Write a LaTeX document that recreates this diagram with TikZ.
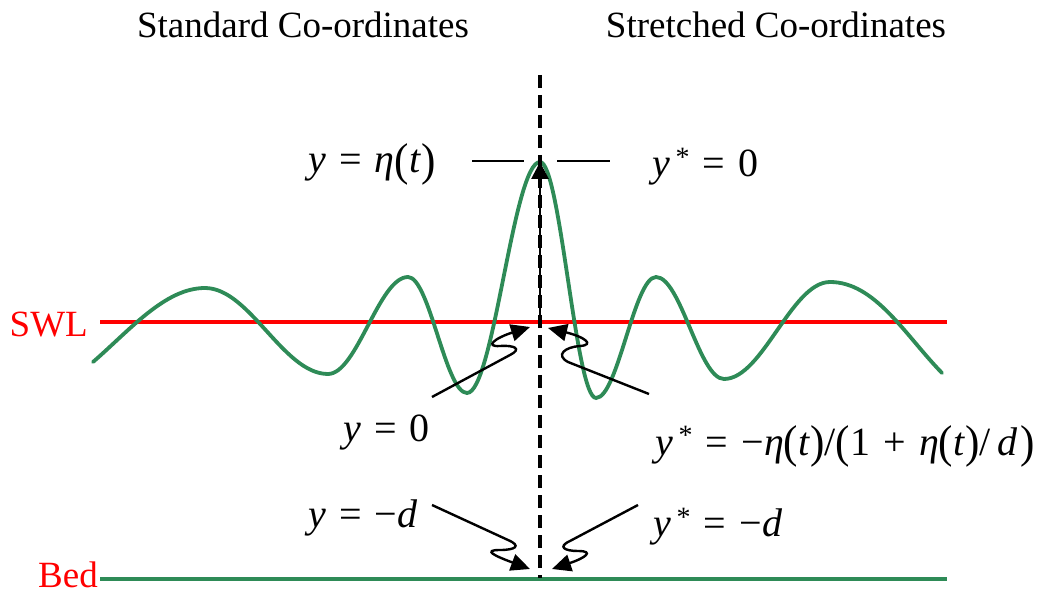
\documentclass[tikz,border=0pt]{standalone}
\usepackage{fontspec}
\setmainfont{Liberation Serif}
\usetikzlibrary{arrows.meta}
\definecolor{wave}{RGB}{46,139,87}
\newcommand{\eqs}{\hspace{0.33em}}
\newcommand{\lpar}{\raisebox{-0.06em}{\scalebox{1.08}[1.15]{(}}}
\newcommand{\rpar}{\raisebox{-0.06em}{\scalebox{1.08}[1.15]{)}}}
\newcommand{\ystar}{\textit{y}\hspace{0.14em}\raisebox{0.25em}{\fontsize{28}{28}\selectfont *}}
\begin{document}
\begin{tikzpicture}[x=1pt,y=-1pt,
  lbl/.style={inner sep=0pt, font=\fontsize{37}{44}\selectfont},
  eq/.style={inner sep=0pt, anchor=base west, font=\fontsize{40}{48}\selectfont},
  waveline/.style={draw=wave, line width=3.8pt},
  swlline/.style={draw=red, line width=3.2pt},
  sq/.style={draw=black, line width=2.4pt, -{Triangle[length=19pt,width=17pt]}},
  thin/.style={draw=black, line width=2.5pt},
  axisdash/.style={draw=black, line width=3.2pt, dash pattern=on 13pt off 7pt}]
\useasboundingbox (0,0) rectangle (1047,593);

% titles
\node[lbl, anchor=base] (t1) at (303,38) {Standard Co-ordinates};
\node[lbl, anchor=base] (t2) at (776,38) {Stretched Co-ordinates};

% SWL and bed
\node[lbl, anchor=base east, text=red] (swl) at (88,337) {SWL};
\node[lbl, anchor=base east, text=red] (bed) at (98,587) {Bed};
\coordinate (swlL) at (100,322);
\coordinate (swlR) at (947,322);
\coordinate (bedL) at (100,579);
\coordinate (bedR) at (947,579);
\draw[swlline] (swlL) -- (swlR);
\draw[waveline] (bedL) -- (bedR);

% wave
\draw[waveline, line cap=round] (93,362) .. controls (130,330) and (165,288) .. (205,288)
  .. controls (249.8,288) and (283.2,374) .. (328,374)
  .. controls (357,374) and (379,277) .. (408,277)
  .. controls (429.5,277) and (445.5,393) .. (467,393)
  .. controls (493.6,393) and (513.4,162) .. (540,162)
  .. controls (560.4,162) and (575.6,398) .. (596,398)
  .. controls (617.8,398) and (634.2,277) .. (656,277)
  .. controls (680.8,277) and (699.2,379) .. (724,379)
  .. controls (762.6,379) and (791.4,282) .. (830,282)
  .. controls (875,282) and (905,335) .. (942,373);

% vertical axis
\coordinate (axtop) at (540,75);
\coordinate (axbot) at (540,578);
\coordinate (zero) at (540,322);
\coordinate (crest) at (540,162);
\draw[axisdash] (axtop) -- (axbot);
\draw[thin, line width=2.8pt, -{Triangle[length=17pt,width=17pt]}] (zero) -- (crest);

% crest ticks
\coordinate (c1a) at (472,161); \coordinate (c1b) at (524,161);
\coordinate (c2a) at (557,161); \coordinate (c2b) at (610,161);
\draw[thin] (c1a) -- (c1b);
\draw[thin] (c2a) -- (c2b);

% labels
\node[eq] (eta) at (308,173) {\textit{y}\eqs=\eqs\textit{η}\lpar\textit{t}\rpar};
\node[eq] (ys0) at (652,177) {\ystar\eqs=\eqs0};
\node[eq] (y0) at (343,442) {\textit{y}\eqs=\eqs0};
\node[eq] (ysf) at (655,455) {\ystar\eqs=\eqs−\textit{η}\lpar\textit{t}\rpar/\lpar1\eqs+\eqs\textit{η}\lpar\textit{t}\rpar/\hspace{0.18em}\textit{d}\hspace{0.05em}\rpar};
\node[eq] (ymd) at (308,527) {\textit{y}\eqs=\eqs−\textit{d}};
\node[eq] (ysd) at (653,536) {\ystar\eqs=\eqs−\textit{d}};

% squiggly arrows
\coordinate (a1s) at (432,397); \coordinate (a1t) at (530,327);
\coordinate (a2s) at (649,394); \coordinate (a2t) at (548,328);
\coordinate (a3s) at (432,505); \coordinate (a3t) at (530,569);
\coordinate (a4s) at (638,505); \coordinate (a4t) at (552,569);
\draw[sq] (a1s) -- (510,355) .. controls (522,349) and (515,345) .. (500,346)
  .. controls (484,347) and (495,338) .. (a1t);
\draw[sq] (a2s) -- (568,362) .. controls (555,355) and (565,347) .. (580,346)
  .. controls (595,345) and (585,337) .. (a2t);
\draw[sq] (a3s) -- (508,540) .. controls (522,546) and (515,550) .. (500,550)
  .. controls (482,550) and (495,556) .. (a3t);
\draw[sq] (a4s) -- (570,541) .. controls (557,547) and (565,551) .. (578,551)
  .. controls (595,551) and (585,558) .. (a4t);
\end{tikzpicture}
\end{document}
